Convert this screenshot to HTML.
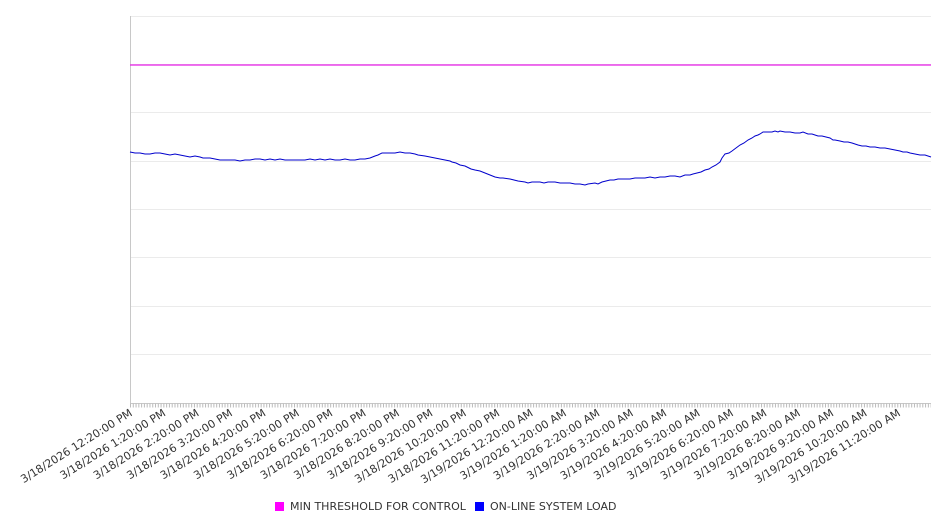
<!DOCTYPE html>
<html><head><meta charset="utf-8"><style>
html,body{margin:0;padding:0;background:#fff;}
svg{display:block;font-family:"DejaVu Sans","Liberation Sans",sans-serif;}
</style></head><body>
<svg width="946" height="526" viewBox="0 0 946 526" xmlns="http://www.w3.org/2000/svg">
<g stroke="#ebebeb" stroke-width="1">
<line x1="130" y1="16.5" x2="931" y2="16.5"/>
<line x1="130" y1="64.5" x2="931" y2="64.5"/>
<line x1="130" y1="112.5" x2="931" y2="112.5"/>
<line x1="130" y1="161.5" x2="931" y2="161.5"/>
<line x1="130" y1="209.5" x2="931" y2="209.5"/>
<line x1="130" y1="257.5" x2="931" y2="257.5"/>
<line x1="130" y1="306.5" x2="931" y2="306.5"/>
<line x1="130" y1="354.5" x2="931" y2="354.5"/>
</g>
<line x1="130.5" y1="16" x2="130.5" y2="404" stroke="#c8c8c8"/>
<line x1="130" y1="403.5" x2="931" y2="403.5" stroke="#c8c8c8"/>
<line x1="130" y1="405.5" x2="931" y2="405.5" stroke="#bbb" stroke-width="4" stroke-dasharray="1 1.78"/>
<line x1="130" y1="65" x2="931" y2="65" stroke="#e81ee8" stroke-width="1.3"/>
<polyline fill="none" stroke="#0000cc" stroke-width="1" points="130,152 135,153 140,153 145,154 150,154 155,153 160,153 165,154 170,155 175,154 180,155 185,156 190,157 195,156 200,157 203,158 205,158 210,158 215,159 220,160 225,160 230,160 235,160 240,161 245,160 250,160 255,159 260,159 265,160 270,159 275,160 280,159 285,160 290,160 295,160 300,160 305,160 310,159 315,160 320,159 325,160 330,159 335,160 340,160 345,159 350,160 355,160 360,159 365,159 370,158 375,156 378,155 382,153 385,153 390,153 395,153 400,152 405,153 410,153 415,154 418,155 425,156 430,157 435,158 440,159 445,160 450,161 452,162 456,163 460,165 465,166 467,167 471,169 475,170 480,171 485,173 490,175 495,177 500,178 503,178 510,179 514,180 518,181 525,182 528,183 532,182 540,182 544,183 548,182 555,182 560,183 565,183 570,183 575,184 580,184 585,185 588,184 595,183 598,184 602,182 606,181 610,180 614,180 618,179 625,179 630,179 635,178 640,178 645,178 650,177 655,178 660,177 665,177 670,176 675,176 680,177 685,175 690,175 693,174 697,173 701,172 705,170 709,169 712,167 716,165 720,162 722,158 725,154 729,153 732,151 736,148 740,145 744,143 748,140 752,138 755,136 758,135 760,134 763,132 765,132 768,132 772,132 775,131 778,132 780,131 785,132 790,132 795,133 800,133 803,132 808,134 812,134 815,135 818,136 822,136 826,137 830,138 833,140 835,140 840,141 844,142 848,142 852,143 855,144 858,145 862,146 866,146 870,147 875,147 880,148 885,148 890,149 895,150 900,151 903,152 907,152 910,153 915,154 920,155 925,155 931,157"/>
<g font-size="11" fill="#333" text-anchor="end">
<text transform="translate(133,415) rotate(-32)">3/18/2026 12:20:00 PM</text>
<text transform="translate(166.4,415) rotate(-32)">3/18/2026 1:20:00 PM</text>
<text transform="translate(199.8,415) rotate(-32)">3/18/2026 2:20:00 PM</text>
<text transform="translate(233.2,415) rotate(-32)">3/18/2026 3:20:00 PM</text>
<text transform="translate(266.6,415) rotate(-32)">3/18/2026 4:20:00 PM</text>
<text transform="translate(300,415) rotate(-32)">3/18/2026 5:20:00 PM</text>
<text transform="translate(333.4,415) rotate(-32)">3/18/2026 6:20:00 PM</text>
<text transform="translate(366.8,415) rotate(-32)">3/18/2026 7:20:00 PM</text>
<text transform="translate(400.2,415) rotate(-32)">3/18/2026 8:20:00 PM</text>
<text transform="translate(433.6,415) rotate(-32)">3/18/2026 9:20:00 PM</text>
<text transform="translate(467,415) rotate(-32)">3/18/2026 10:20:00 PM</text>
<text transform="translate(500.4,415) rotate(-32)">3/18/2026 11:20:00 PM</text>
<text transform="translate(533.8,415) rotate(-32)">3/19/2026 12:20:00 AM</text>
<text transform="translate(567.2,415) rotate(-32)">3/19/2026 1:20:00 AM</text>
<text transform="translate(600.6,415) rotate(-32)">3/19/2026 2:20:00 AM</text>
<text transform="translate(634,415) rotate(-32)">3/19/2026 3:20:00 AM</text>
<text transform="translate(667.4,415) rotate(-32)">3/19/2026 4:20:00 AM</text>
<text transform="translate(700.8,415) rotate(-32)">3/19/2026 5:20:00 AM</text>
<text transform="translate(734.2,415) rotate(-32)">3/19/2026 6:20:00 AM</text>
<text transform="translate(767.6,415) rotate(-32)">3/19/2026 7:20:00 AM</text>
<text transform="translate(801,415) rotate(-32)">3/19/2026 8:20:00 AM</text>
<text transform="translate(834.4,415) rotate(-32)">3/19/2026 9:20:00 AM</text>
<text transform="translate(867.8,415) rotate(-32)">3/19/2026 10:20:00 AM</text>
<text transform="translate(901.2,415) rotate(-32)">3/19/2026 11:20:00 AM</text>
</g>
<rect x="275" y="502" width="9" height="9" fill="#ff00ff"/>
<text x="290" y="510" font-size="11" fill="#333">MIN THRESHOLD FOR CONTROL</text>
<rect x="475" y="502" width="9" height="9" fill="#0000ff"/>
<text x="490" y="510" font-size="11" fill="#333">ON-LINE SYSTEM LOAD</text>
</svg>
</body></html>
